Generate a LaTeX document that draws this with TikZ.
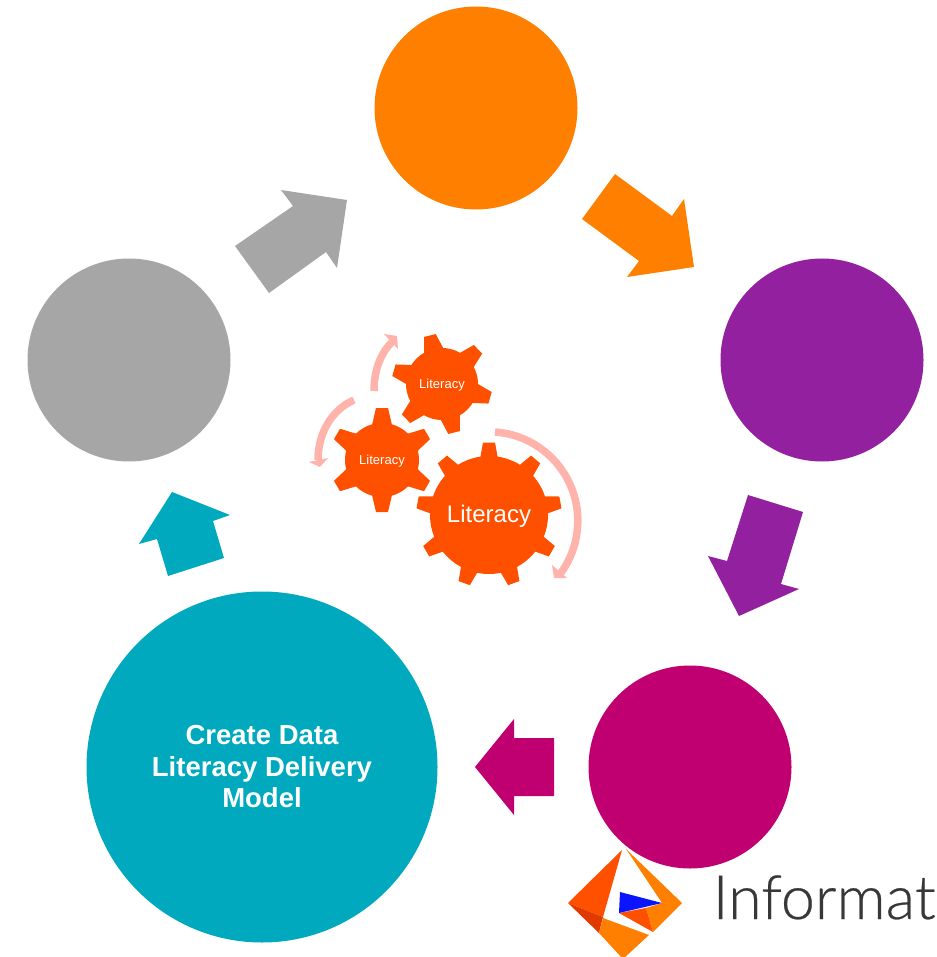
\documentclass[tikz,border=0pt]{standalone}
\usepackage{fontspec}
\setmainfont{Liberation Sans}
\newfontfamily\logofont[FakeBold=0.4]{Lato Light}
\definecolor{corange}{HTML}{FF8000}
\definecolor{cpurple}{HTML}{93209F}
\definecolor{cmagenta}{HTML}{C00070}
\definecolor{cgray}{HTML}{A6A6A6}
\definecolor{cteal}{HTML}{00A9BE}
\definecolor{cgear}{HTML}{FF5000}
\definecolor{cpink}{HTML}{FFB3AB}
\definecolor{cdark}{HTML}{E03A00}
\definecolor{cblue}{HTML}{0A14FF}
\definecolor{ctext}{HTML}{383838}
\newcommand{\lowered}[2]{\raisebox{0pt}[\dimexpr\height+#1\relax]{#2}}
\tikzset{
  disc/.style={circle,inner sep=0pt,minimum size=203pt},
  gearbody/.style={circle,fill=cgear,inner sep=0pt,text=white},
  ringarrow/.style={draw=cpink,line width=7.5pt},
}
\begin{document}
\begin{tikzpicture}[x=1pt,y=-1pt]
\useasboundingbox (0,0) rectangle (936,957);
% block arrows
\fill[corange] (615,174)--(582,219)--(639,261)--(627,277)--(694,267)--(684,199)--(672,216)--cycle;
\fill[cgray] (235,246)--(269,293)--(326,252)--(337,268)--(347,200)--(281,190)--(293,206)--cycle;
\fill[cpurple] (748,495)--(803,512)--(781,584)--(799,589)--(739,616)--(708,556)--(727,561)--cycle;
\fill[cmagenta] (554,738)--(554,796)--(514,796)--(514,815)--(475,767)--(514,719)--(514,738)--cycle;
\fill[cteal] (224,558)--(168,576)--(157,539)--(139,544)--(172,492)--(230,515)--(213,521)--cycle;
% logo
\fill[cgear] (622,850)--(568,903)--(603,917)--cycle;
\fill[cdark] (568,903)--(603,917)--(599,933)--cycle;
\fill[corange] (603,918)--(649,935)--(623,959)--(599,933)--cycle;
\fill[corange] (626,849)--(682,903)--(653,932)--(646,908)--(662,903)--cycle;
\fill[cgear] (619,913)--(646,908)--(653,932)--cycle;
\fill[cblue] (620,892)--(662,903)--(619,913)--cycle;
\node[anchor=base west,inner sep=0pt,text=ctext,font=\logofont\fontsize{61}{61}\selectfont] (brand) at (712.5,919) {Informat};
% discs
\node[disc,fill=corange] (d1) at (476,108) {};
\node[disc,fill=cpurple] (d2) at (822,360) {};
\node[disc,fill=cmagenta] (d3) at (690,767) {};
\node[disc,fill=cgray] (d4) at (129,360) {};
\node[disc,fill=cteal,minimum size=351pt,text=white,align=center,font=\bfseries\fontsize{27.5}{31.5}\selectfont] (d5) at (262,767) {Create Data\\Literacy Delivery\\Model};
% gears
\node[gearbody,minimum size=118pt,font=\fontsize{24}{24}\selectfont] (g1) at (489,515) {\lowered{3pt}{Literacy}};
\node[gearbody,minimum size=74pt,font=\fontsize{13}{13}\selectfont] (g2) at (382,460) {\lowered{2pt}{Literacy}};
\node[gearbody,minimum size=72pt,font=\fontsize{13}{13}\selectfont] (g3) at (442,384) {\lowered{3pt}{Literacy}};
\foreach \a in {90,50,10,-30,-70,-110,-150,170,130}
  \fill[cgear,shift={(g1.center)},rotate=\a] (56,-9)--(72.5,-6)--(72.5,6)--(56,9)--cycle;
\foreach \a in {90,30,-30,-90,-150,150}
  \fill[cgear,shift={(g2.center)},rotate=\a] (35,-10)--(52,-6)--(52,6)--(35,10)--cycle;
\foreach \a in {104,44,-16,-76,-136,164}
  \fill[cgear,shift={(g3.center)},rotate=\a] (34,-10)--(50,-6)--(50,6)--(34,10)--cycle;
% ring arrows
\draw[ringarrow] (495,432) arc[start angle=-86,end angle=38,radius=89];
\fill[cpink] (552,565)--(554,578)--(567,578)--cycle;
\draw[ringarrow] (354,400) .. controls (331,410) and (318,434) .. (318,460);
\fill[cpink] (309,462)--(320,467)--(328,458)--cycle;
\draw[ringarrow] (374,391) .. controls (374,371) and (380,354) .. (392,342);
\fill[cpink] (384,334)--(397,336)--(398,349)--cycle;
\end{tikzpicture}
\end{document}
